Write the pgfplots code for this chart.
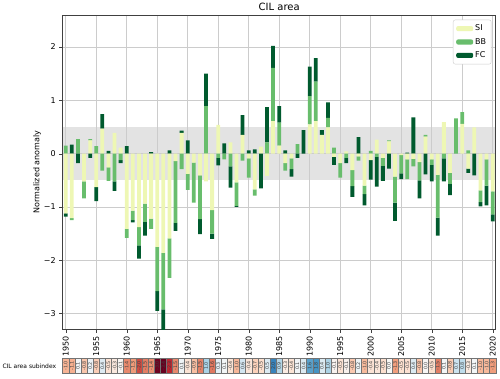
\documentclass[border=0pt]{standalone}
\usepackage{pgfplots}
\pgfplotsset{compat=1.18}
\usepackage{pgfplotstable}
\usepackage{fontspec}
\setmainfont{DejaVu Sans}

\definecolor{siC}{HTML}{EEF7B4}
\definecolor{bbC}{HTML}{68BD6C}
\definecolor{fcC}{HTML}{005A2E}

% normalized anomalies (contribution of each component)
\pgfplotstableread{
year SI BB FC
1950 -1.12 0.15 -0.06
1951 -1.21 -0.04 0.17
1952 0.00 0.27 -0.18
1953 -0.52 -0.32 0.00
1954 0.25 0.02 -0.08
1955 -0.63 0.14 -0.26
1956 0.47 -0.32 0.27
1957 -0.26 -0.25 0.05
1958 0.39 -0.52 -0.18
1959 0.11 -0.12 -0.06
1960 -1.41 -0.17 0.14
1961 -1.07 -0.18 -0.04
1962 -1.38 -0.34 -0.25
1963 -0.94 -0.34 -0.26
1964 -1.22 -0.19 0.03
1965 -1.75 -0.83 -0.37
1966 -1.86 -1.06 -0.50
1967 -1.59 -0.74 0.06
1968 -0.14 -1.16 -0.15
1969 0.39 -0.29 0.04
1970 -0.38 -0.30 0.25
1971 -0.17 -0.75 0.00
1972 -0.41 -0.82 -0.28
1973 -0.52 0.89 0.61
1974 -1.06 -0.44 -0.10
1975 0.54 -0.08 -0.14
1976 0.00 -0.11 0.19
1977 0.21 -0.24 -0.40
1978 -0.54 -0.44 -0.02
1979 0.35 -0.13 0.37
1980 -0.09 -0.36 0.06
1981 -0.67 -0.12 0.08
1982 0.13 0.00 -0.65
1983 -0.42 0.21 0.66
1984 0.61 1.00 0.41
1985 0.15 0.43 0.31
1986 -0.18 -0.14 0.06
1987 -0.09 -0.20 -0.14
1988 0.00 0.18 -0.08
1989 0.00 0.00 0.44
1990 0.55 0.53 0.55
1991 0.61 0.74 0.44
1992 0.35 0.00 0.09
1993 0.49 0.18 0.29
1994 -0.06 0.11 -0.15
1995 -0.18 -0.27 0.00
1996 0.04 -0.08 -0.10
1997 -0.31 -0.30 -0.20
1998 -0.05 -0.08 0.31
1999 -0.60 -0.16 -0.21
2000 -0.12 0.05 -0.37
2001 0.26 -0.06 -0.56
2002 -0.08 -0.15 -0.28
2003 0.23 0.02 -0.28
2004 -0.43 -0.49 -0.34
2005 -0.03 -0.34 -0.11
2006 -0.11 -0.37 0.02
2007 -0.10 -0.14 0.68
2008 -0.16 -0.34 -0.34
2009 0.32 0.03 -0.39
2010 -0.11 -0.10 -0.31
2011 -0.40 -0.80 -0.34
2012 0.59 -0.09 -0.43
2013 -0.36 -0.21 -0.21
2014 0.00 0.66 0.00
2015 0.56 0.22 0.00
2016 -0.28 0.06 -0.08
2017 0.49 0.00 -0.41
2018 -0.69 -0.22 -0.08
2019 -0.11 -0.49 -0.37
2020 -0.71 -0.43 -0.13
}\cil
% subindex = sum of the three contributions
\pgfplotstablecreatecol[create col/expr={\thisrow{SI}+\thisrow{BB}+\thisrow{FC}}]{sub}\cil

\pgfplotsset{
  frame/.style={
    width=433pt, height=314pt, scale only axis,
    at={(0pt,0pt)}, anchor=south west,
    xmin=1949.5, xmax=2020.5, ymin=-3.29, ymax=2.6,
    ybar stacked, bar width=0.62,
  },
  leg/.style={legend image code/.code={\fill[##1] (0pt,-2.6pt) rectangle (17pt,2.6pt);}},
}

\begin{document}
\begin{tikzpicture}
\path[use as bounding box] (-62.7pt,-49pt) rectangle (437.3pt,329pt);

% grey band of +-0.5 (under the grid)
\begin{axis}[frame, hide axis]
\fill[black!11] (axis cs:1949.5,-0.5) rectangle (axis cs:2020.5,0.5);
\end{axis}

% positive parts + all decorations
\begin{axis}[
  frame,
  title={CIL area},
  title style={font=\fontsize{10}{12}\selectfont, yshift=-5pt},
  ylabel={Normalized anomaly},
  ylabel style={font=\fontsize{8}{9}\selectfont, yshift=-4pt},
  xtick={1950,1955,...,2020},
  ytick={-3,-2,-1,0,1,2},
  yticklabels={−3,−2,−1,0,1,2},
  xticklabel style={rotate=90, anchor=east},
  /pgf/number format/1000 sep={},
  /pgf/number format/assume math mode=true,
  tick label style={font=\fontsize{8}{9}\selectfont},
  grid=major, grid style={black!20, line width=0.6pt},
  axis line style={black!75},
  tick align=outside, tick pos=left, major tick length=3.5pt,
  tick style={black!75},
  legend style={at={(0.99,0.985)}, anchor=north east, draw=black!20,
    rounded corners=2pt, font=\fontsize{8}{9}\selectfont,
    cells={anchor=west}, row sep=2pt, inner sep=3pt},
]
\addplot[fill=siC, draw=none, leg] table[x=year, y expr={max(\thisrow{SI},0)}]{\cil};
\addlegendentry{SI}
\addplot[fill=bbC, draw=none, leg] table[x=year, y expr={max(\thisrow{BB},0)}]{\cil};
\addlegendentry{BB}
\addplot[fill=fcC, draw=none, leg] table[x=year, y expr={max(\thisrow{FC},0)}]{\cil};
\addlegendentry{FC}
\end{axis}

% negative parts, stacked downward from zero
\begin{axis}[frame, hide axis]
\addplot[fill=siC, draw=none] table[x=year, y expr={min(\thisrow{SI},0)}]{\cil};
\addplot[fill=bbC, draw=none] table[x=year, y expr={min(\thisrow{BB},0)}]{\cil};
\addplot[fill=fcC, draw=none] table[x=year, y expr={min(\thisrow{FC},0)}]{\cil};
\end{axis}

% subindex row
\begin{axis}[
  width=433pt, height=15pt, scale only axis,
  at={(0pt,-44.5pt)}, anchor=south west,
  xmin=1949.5, xmax=2020.5, ymin=-0.5, ymax=0.5,
  hide axis, clip=false,
  /pgf/number format/assume math mode=true,
  colormap={rdbu}{rgb255=(103,0,31) rgb255=(178,24,43) rgb255=(214,96,77)
    rgb255=(244,165,130) rgb255=(253,219,199) rgb255=(247,247,247)
    rgb255=(209,229,240) rgb255=(146,197,222) rgb255=(67,147,195)
    rgb255=(33,102,172) rgb255=(5,48,97)},
  point meta min=-3, point meta max=3,
]
\addplot[scatter, only marks, mark=square*, point meta=explicit,
  mark options={yscale=2.46},
  mark size=3.05pt,
  scatter/use mapped color={draw=black!55, fill=mapped color},
] table[x=year, y expr=0, meta=sub]{\cil};
\addplot[draw=none, mark=none, point meta=explicit,
  nodes near coords={\pgfmathprintnumber[fixed, fixed zerofill, precision=1]{\pgfplotspointmeta}},
  every node near coord/.append style={rotate=90, anchor=center, text=black!75,
    font=\fontsize{4.8}{5}\selectfont, inner sep=0pt},
] table[x=year, y expr=0, meta=sub]{\cil};
\node[anchor=east, font=\fontsize{6}{7}\selectfont] at (rel axis cs:0,0.5) [xshift=-3pt] {CIL area subindex};
\end{axis}
\end{tikzpicture}
\end{document}
